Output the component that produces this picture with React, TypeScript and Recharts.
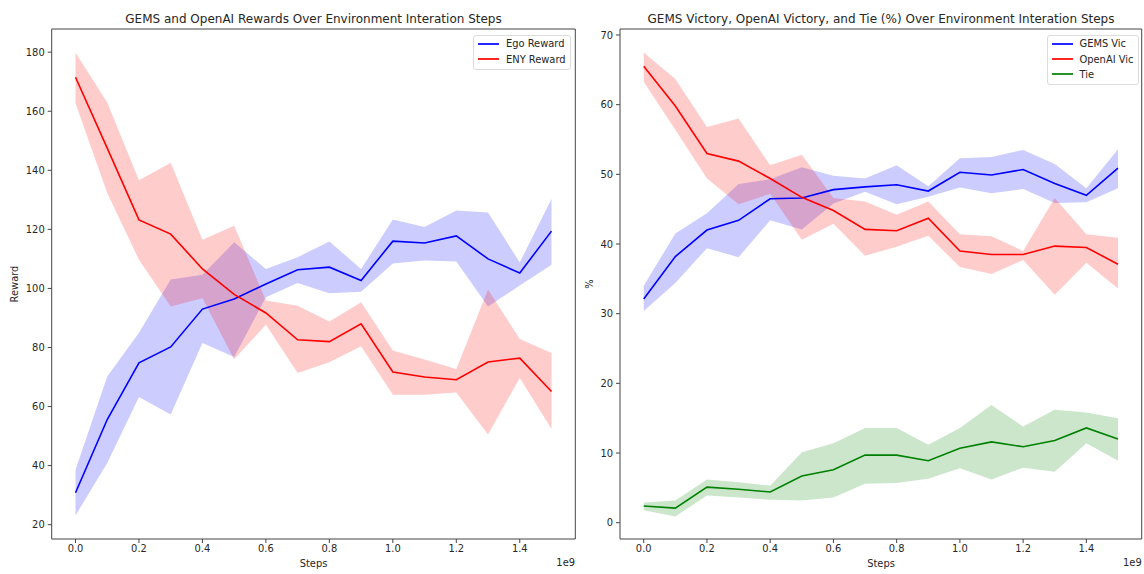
import React from "react";
import {
  ComposedChart,
  Area,
  Line,
  XAxis,
  YAxis,
  ReferenceArea,
} from "recharts";

// x positions (in 1e9 steps)
const steps = [0, 0.1, 0.2, 0.3, 0.4, 0.5, 0.6, 0.7, 0.8, 0.9, 1.0, 1.1, 1.2, 1.3, 1.4, 1.5];
const xTicks = [0, 0.2, 0.4, 0.6, 0.8, 1.0, 1.2, 1.4];

// left chart - rewards
const egoReward = [30.8, 55.6, 74.8, 80.2, 93, 96.4, 101.5, 106.3, 107.2, 102.7, 116, 115.4, 117.8, 110, 105.2, 119.4];
const egoHigh = [38.6, 70.2, 85, 103, 104.6, 115.6, 106.6, 110.6, 115.9, 106.6, 123.3, 120.8, 126.4, 125.7, 108.8, 130.3];
const egoLow = [23.1, 40.9, 63.2, 57.3, 81.5, 76.8, 97, 101.8, 98.4, 98.9, 108.4, 109.5, 109.1, 93.9, 101, 108];
const enyReward = [171.5, 147.5, 123.2, 118.4, 106.6, 98, 91.7, 82.6, 82, 88, 71.7, 70, 69.1, 75.1, 76.4, 65.1];
const enyHigh = [179.9, 163, 136.6, 142.6, 116.5, 121.2, 95.9, 94.1, 88.8, 95.3, 79, 75.9, 72.7, 99.6, 82.9, 78.1];
const enyLow = [162.7, 132.3, 109.7, 93.9, 96.7, 76, 87.7, 71.4, 75, 80.4, 64, 64, 64.8, 50.5, 69.7, 52.4];
const rewardTicks = [20, 40, 60, 80, 100, 120, 140, 160, 180];

// right chart - victory / tie %
const gemsVic = [32.1, 38.2, 42, 43.4, 46.5, 46.6, 47.8, 48.2, 48.5, 47.6, 50.3, 49.9, 50.7, 48.7, 47, 50.9];
const gemsHigh = [34, 41.5, 44.4, 48.6, 49.3, 51, 49.8, 49.4, 51.3, 48.3, 52.3, 52.5, 53.5, 51.5, 48, 53.6];
const gemsLow = [30.4, 34.4, 39.4, 38.1, 43.4, 42.1, 45.8, 47.5, 45.7, 46.8, 48.1, 47.3, 47.9, 45.9, 46, 48];
const openaiVic = [65.5, 59.8, 53, 51.9, 49.4, 46.7, 44.8, 42.1, 41.9, 43.7, 39, 38.5, 38.5, 39.7, 39.5, 37.1];
const openaiHigh = [67.5, 63.7, 56.8, 58, 51.3, 52.8, 46.6, 46.1, 44.2, 46.1, 41.4, 41.1, 39, 46.6, 41.4, 40.9];
const openaiLow = [63.3, 56.4, 49.4, 45.7, 47.2, 40.6, 42.9, 38.3, 39.6, 41.2, 36.7, 35.7, 37.7, 32.7, 37.3, 33.6];
const tie = [2.4, 2.1, 5.1, 4.8, 4.4, 6.7, 7.6, 9.7, 9.7, 8.9, 10.7, 11.6, 10.9, 11.8, 13.6, 12];
const tieHigh = [2.9, 3.2, 6.2, 5.8, 5.3, 10.1, 11.4, 13.6, 13.6, 11.2, 13.6, 16.9, 13.8, 16.2, 15.8, 15];
const tieLow = [1.8, 0.9, 3.9, 3.6, 3.3, 3.2, 3.6, 5.6, 5.7, 6.3, 7.8, 6.2, 7.9, 7.3, 11.4, 8.9];
const pctTicks = [0, 10, 20, 30, 40, 50, 60, 70];

const xDomain = [-0.075, 1.575];
const rewardDomain = [15.15, 187.85];
const pctDomain = [-2.34, 70.86];

const rewardData = steps.map((s, i) => ({
  step: s,
  ego: egoReward[i],
  egoBand: [egoLow[i], egoHigh[i]],
  eny: enyReward[i],
  enyBand: [enyLow[i], enyHigh[i]],
}));

const pctData = steps.map((s, i) => ({
  step: s,
  gems: gemsVic[i],
  gemsBand: [gemsLow[i], gemsHigh[i]],
  openai: openaiVic[i],
  openaiBand: [openaiLow[i], openaiHigh[i]],
  tie: tie[i],
  tieBand: [tieLow[i], tieHigh[i]],
}));

const BLUE = "#0000ff";
const RED = "#ff0000";
const GREEN = "#008000";
const INK = "#262626";
const SPINE = "#454545";
const FONT = "'DejaVu Sans', sans-serif";
const SMALL = 9.9;

const tickStyle = { fill: INK, fontSize: SMALL, fontFamily: FONT };

const LegendBox = ({ items, style }: { items: { name: string; color: string }[]; style: React.CSSProperties }) => (
  <div
    style={{
      position: "absolute",
      border: "1px solid #dcdcdc",
      borderRadius: 3,
      background: "rgba(255,255,255,0.8)",
      padding: "0 4px 2px 4px",
      fontFamily: FONT,
      fontSize: SMALL,
      color: INK,
      ...style,
    }}>
    {items.map((it) => (
      <div key={it.name} style={{ display: "flex", alignItems: "center", height: 15.4 }}>
        <span style={{ width: 21, height: 2, background: it.color, marginRight: 7, opacity: 0.85 }} />
        <span>{it.name}</span>
      </div>
    ))}
  </div>
);

const Text = ({ x, y, children, size = SMALL, rotate = false, anchor = "center" }: any) => (
  <div
    style={{
      position: "absolute",
      left: x,
      top: y,
      transform:
        (anchor === "end" ? "translate(-100%,-50%)" : "translate(-50%,-50%)") +
        (rotate ? " rotate(-90deg)" : ""),
      fontFamily: FONT,
      fontSize: size,
      color: INK,
      whiteSpace: "nowrap",
      lineHeight: 1,
    }}>
    {children}
  </div>
);

const App = () => {
  return (
    <div style={{ position: "absolute", left: 0, top: 0, width: 1144, height: 574, background: "#fff" }}>
      {/* Left chart: rewards */}
      <div style={{ position: "absolute", left: 0, top: 0 }}>
        <ComposedChart
          width={580}
          height={574}
          data={rewardData}
          margin={{ top: 29, right: 4.7, left: 11.7, bottom: 0 }}>
          <XAxis
            dataKey='step'
            type='number'
            domain={xDomain}
            ticks={xTicks}
            allowDataOverflow
            tickFormatter={(v: number) => v.toFixed(1)}
            axisLine={false}
            tickLine={{ stroke: SPINE }}
            tickSize={4}
            tickMargin={2}
            height={35}
            tick={tickStyle}
          />
          <YAxis
            type='number'
            domain={rewardDomain}
            ticks={rewardTicks}
            allowDataOverflow
            axisLine={false}
            tickLine={{ stroke: SPINE }}
            tickSize={4}
            tickMargin={3}
            width={40}
            tick={tickStyle}
          />
          <Area dataKey='egoBand' type='linear' fill={BLUE} fillOpacity={0.2} stroke='none' isAnimationActive={false} />
          <Line dataKey='ego' type='linear' stroke={BLUE} strokeWidth={1.6} dot={false} isAnimationActive={false} />
          <Area dataKey='enyBand' type='linear' fill={RED} fillOpacity={0.2} stroke='none' isAnimationActive={false} />
          <Line dataKey='eny' type='linear' stroke={RED} strokeWidth={1.6} dot={false} isAnimationActive={false} />
          <ReferenceArea
            x1={xDomain[0]}
            x2={xDomain[1]}
            y1={rewardDomain[0]}
            y2={rewardDomain[1]}
            fill='none'
            stroke={SPINE}
            strokeWidth={1}
          />
        </ComposedChart>
      </div>

      {/* Right chart: victory and tie percentages */}
      <div style={{ position: "absolute", left: 580, top: 0 }}>
        <ComposedChart
          width={564}
          height={574}
          data={pctData}
          margin={{ top: 29, right: 2.3, left: 0, bottom: 0 }}>
          <XAxis
            dataKey='step'
            type='number'
            domain={xDomain}
            ticks={xTicks}
            allowDataOverflow
            tickFormatter={(v: number) => v.toFixed(1)}
            axisLine={false}
            tickLine={{ stroke: SPINE }}
            tickSize={4}
            tickMargin={2}
            height={35}
            tick={tickStyle}
          />
          <YAxis
            type='number'
            domain={pctDomain}
            ticks={pctTicks}
            allowDataOverflow
            axisLine={false}
            tickLine={{ stroke: SPINE }}
            tickSize={4}
            tickMargin={3}
            width={40}
            tick={tickStyle}
          />
          <Area dataKey='gemsBand' type='linear' fill={BLUE} fillOpacity={0.2} stroke='none' isAnimationActive={false} />
          <Line dataKey='gems' type='linear' stroke={BLUE} strokeWidth={1.6} dot={false} isAnimationActive={false} />
          <Area dataKey='openaiBand' type='linear' fill={RED} fillOpacity={0.2} stroke='none' isAnimationActive={false} />
          <Line dataKey='openai' type='linear' stroke={RED} strokeWidth={1.6} dot={false} isAnimationActive={false} />
          <Area dataKey='tieBand' type='linear' fill={GREEN} fillOpacity={0.2} stroke='none' isAnimationActive={false} />
          <Line dataKey='tie' type='linear' stroke={GREEN} strokeWidth={1.6} dot={false} isAnimationActive={false} />
          <ReferenceArea
            x1={xDomain[0]}
            x2={xDomain[1]}
            y1={pctDomain[0]}
            y2={pctDomain[1]}
            fill='none'
            stroke={SPINE}
            strokeWidth={1}
          />
        </ComposedChart>
      </div>

      {/* Titles and axis labels */}
      <Text x={313.5} y={19.3} size={12}>GEMS and OpenAI Rewards Over Environment Interation Steps</Text>
      <Text x={881} y={19.3} size={12}>GEMS Victory, OpenAI Victory, and Tie (%) Over Environment Interation Steps</Text>
      <Text x={313.5} y={564}>Steps</Text>
      <Text x={881} y={564}>Steps</Text>
      <Text x={575} y={563.3} anchor='end'>1e9</Text>
      <Text x={1141.7} y={563.3} anchor='end'>1e9</Text>
      <Text x={15} y={284} rotate>Reward</Text>
      <Text x={590} y={284} rotate>%</Text>

      {/* Legends */}
      <LegendBox
        style={{ left: 473, top: 35, width: 88 }}
        items={[
          { name: "Ego Reward", color: BLUE },
          { name: "ENY Reward", color: RED },
        ]}
      />
      <LegendBox
        style={{ left: 1046.5, top: 35, width: 82 }}
        items={[
          { name: "GEMS Vic", color: BLUE },
          { name: "OpenAI Vic", color: RED },
          { name: "Tie", color: GREEN },
        ]}
      />
    </div>
  );
};

export default App;
